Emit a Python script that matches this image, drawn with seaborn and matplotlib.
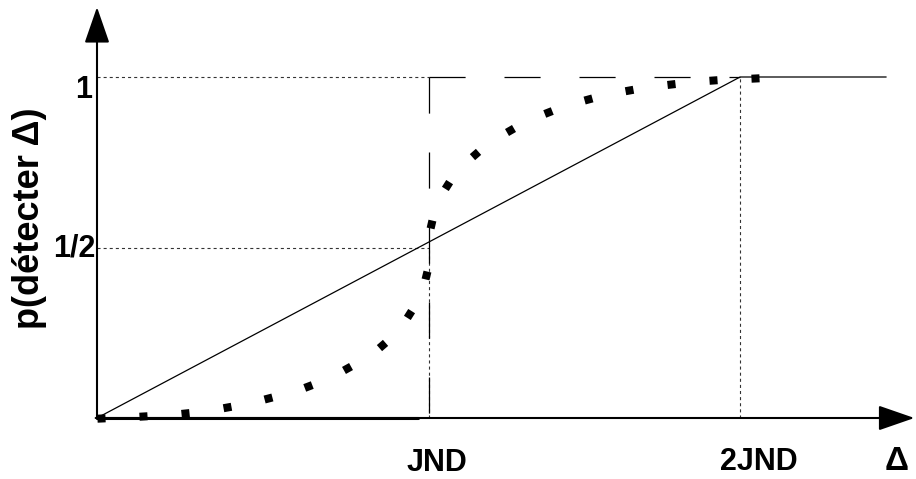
import numpy as np
import matplotlib
matplotlib.use("Agg")
import matplotlib.pyplot as plt
import seaborn as sns

# positions on the axes (JND = 1)
jnd = 1.0
two_jnd = 1.937
x_tick_pos = [jnd, two_jnd]
x_tick_labels = ["JND", "2JND"]
y_tick_pos = [0.5, 1.0]
y_tick_labels = ["1/2", "1"]

# ligne droite : proba proportionnelle jusqu'a 2JND puis 1
lin_x = [0.0, two_jnd, 2.377]
lin_y = [0.0, 1.0, 1.0]

# courbe en escalier (seuil a JND)
step_low_x = [0.0, 0.967]
step_low_y = [0.0, 0.0]
step_vert_x = [jnd, jnd]
step_vert_y = [1.0, 0.0]
step_high_x = [jnd, two_jnd]
step_high_y = [1.0, 1.0]

# courbe psychometrique (points)
psy_x = [0.012, 0.139, 0.265, 0.392, 0.515, 0.636, 0.753, 0.858, 0.940, 0.991,
         1.006, 1.054, 1.139, 1.244, 1.358, 1.479, 1.602, 1.729, 1.855, 1.982]
psy_y = [0.000, 0.006, 0.015, 0.032, 0.059, 0.094, 0.147, 0.214, 0.305, 0.419,
         0.569, 0.683, 0.774, 0.845, 0.897, 0.935, 0.962, 0.979, 0.991, 0.997]

sns.set_theme(style="white")
plt.rcParams["font.family"] = ["Liberation Sans", "DejaVu Sans"]
plt.rcParams["font.weight"] = "bold"
plt.rcParams["text.color"] = "black"
plt.rcParams["lines.scale_dashes"] = False

px_x, px_y = 332.0, 341.0  # pixels par unite
fig = plt.figure(figsize=(9.16, 4.79), dpi=100)
ax = fig.add_axes([0, 0, 1, 1])
ax.set_xlim(-97 / px_x, (916 - 97) / px_x)
ax.set_ylim((418 - 479) / px_y, 418 / px_y)
ax.axis("off")

# guides pointilles fins
guide = dict(color="#333333", lw=0.8, linestyle=(0, (2.2, 2.2)))
ax.plot([0, jnd], [1, 1], **guide)
ax.plot([0, jnd], [0.5, 0.5], **guide)
ax.plot([jnd, jnd], [0, 0.5], **guide)
ax.plot([two_jnd, two_jnd], [0, 1], **guide)

# axes avec fleches
arrow = dict(arrowstyle="-|>,head_length=22.5,head_width=7.8", lw=1.5,
             color="black", shrinkA=0, shrinkB=0, mutation_scale=1)
ax.annotate("", xy=(0, 1.205), xytext=(0, -0.002), arrowprops=arrow)
ax.annotate("", xy=(2.462, 0), xytext=(-0.004, 0), arrowprops=arrow)

# courbes
sns.lineplot(x=lin_x, y=lin_y, color="black", lw=0.9, sort=False, ax=ax)
sns.lineplot(x=step_low_x, y=step_low_y, color="black", lw=2.2, sort=False, ax=ax)
long_dash = dict(color="black", lw=0.9, linestyle=(0, (26, 28)))
ax.plot(step_vert_x, step_vert_y, **long_dash)
ax.plot(step_high_x, step_high_y, **long_dash)

# points carres orientes selon la courbe
dx = np.gradient(np.array(psy_x) * px_x)
dy = np.gradient(np.array(psy_y) * px_y)
angles = np.degrees(np.arctan2(dy, dx))
for xv, yv, a in zip(psy_x, psy_y, angles):
    ax.plot([xv], [yv], marker=(4, 0, 45 + a), ms=8.2, mew=0,
            color="black", ls="none")

# textes
fs = 22
ax.text(-0.015, 0.938, y_tick_labels[1], ha="right", va="baseline",
        fontsize=fs, fontweight="bold", color="black")
ax.text(-0.006, 0.475, y_tick_labels[0], ha="right", va="baseline",
        fontsize=fs, fontweight="bold", color="black")
ax.text(x_tick_pos[0] + 0.024, -0.155, x_tick_labels[0], ha="center",
        va="baseline", fontsize=fs, fontweight="bold", color="black")
ax.text(x_tick_pos[1] + 0.057, -0.152, x_tick_labels[1], ha="center",
        va="baseline", fontsize=fs, fontweight="bold", color="black")
ax.text(2.41, -0.152, "Δ", ha="center", va="baseline", fontsize=24,
        fontweight="bold", color="black")
ax.text(-0.202, 0.587, "p(détecter Δ)", rotation=90, ha="center",
        va="center", fontsize=26, fontweight="bold", color="black")

fig.savefig("out.png", dpi=100)
